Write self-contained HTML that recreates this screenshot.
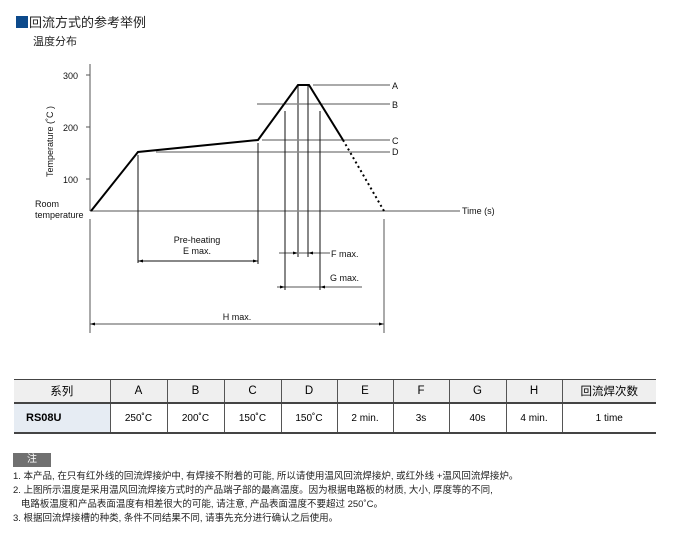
<!DOCTYPE html>
<html><head><meta charset="utf-8"><style>
body{margin:0;width:686px;height:545px;background:#fff;position:relative;overflow:hidden;font-family:"Liberation Sans","Noto Sans CJK SC",sans-serif;}
.abs{position:absolute;white-space:nowrap}
table{position:absolute;left:14px;top:380px;border-collapse:collapse;width:642px;font-size:10px;}
td{border-left:1px solid #555;text-align:center;padding:0;}
td:first-child{border-left:none}
tr.h td{height:22px;background:#efefef;font-size:11.5px;border-bottom:2px solid #444}
tr.d td{height:28px;}
</style></head><body>
<div class="abs" style="left:16px;top:16px;width:12px;height:12px;background:#0d4a8b"></div>
<div class="abs" style="left:29px;top:12px;font-size:13px;color:#222">回流方式的参考举例</div>
<div class="abs" style="left:33px;top:33px;font-size:11px;color:#222">温度分布</div>
<svg class="abs" style="left:0;top:0" width="686" height="370" font-family="Liberation Sans, sans-serif" font-size="9">
<g stroke="#555" stroke-width="1" fill="none">
<line x1="90" y1="64" x2="90" y2="211"/>
<line x1="86" y1="75" x2="90" y2="75"/><line x1="86" y1="127" x2="90" y2="127"/><line x1="86" y1="179" x2="90" y2="179"/>
<line x1="90" y1="211" x2="460" y2="211"/>
<line x1="313" y1="85" x2="390" y2="85"/>
<line x1="257" y1="104" x2="390" y2="104"/>
<line x1="262" y1="140" x2="390" y2="140"/>
<line x1="156" y1="152" x2="390" y2="152"/>
<line x1="90" y1="219" x2="90" y2="333"/>
<line x1="90" y1="324" x2="384" y2="324"/>
<line x1="384" y1="219" x2="384" y2="333"/>
<line x1="279" y1="253" x2="330" y2="253"/>
<line x1="277" y1="287" x2="362" y2="287"/>
</g>
<g stroke="#111" stroke-width="1" fill="none">
<line x1="138" y1="155" x2="138" y2="263"/>
<line x1="258" y1="143" x2="258" y2="264"/>
<line x1="138" y1="261" x2="258" y2="261"/>
<line x1="285" y1="111" x2="285" y2="290"/>
<line x1="320" y1="111" x2="320" y2="290"/>
<line x1="308" y1="85" x2="308" y2="257"/>
</g>
<line x1="298" y1="85" x2="298" y2="257" stroke="#888" stroke-width="2"/>
<polyline points="91,211 138,152 258,140 298,85 309,85 343,140" fill="none" stroke="#000" stroke-width="2"/>
<line x1="343" y1="140" x2="384" y2="211" stroke="#000" stroke-width="2" stroke-dasharray="2,3"/>
<g fill="#000">
<path d="M138,261 l5,-1.5 v3z"/><path d="M258,261 l-5,-1.5 v3z"/>
<path d="M90,324 l5,-1.5 v3z"/><path d="M384,324 l-5,-1.5 v3z"/>
<path d="M298,253 l-5,-1.5 v3z"/><path d="M308,253 l5,-1.5 v3z"/>
<path d="M285,287 l-5,-1.5 v3z"/><path d="M320,287 l5,-1.5 v3z"/>
</g>
<g fill="#111">
<text x="63" y="79">300</text><text x="63" y="131">200</text><text x="63" y="183">100</text>
<text x="35" y="207">Room</text><text x="35" y="218">temperature</text>
<text transform="translate(53,177) rotate(-90)">Temperature (˚C )</text>
<text x="392" y="89">A</text><text x="392" y="108">B</text><text x="392" y="144">C</text><text x="392" y="155">D</text>
<text x="462" y="214">Time (s)</text>
<text x="197" y="243" text-anchor="middle">Pre-heating</text>
<text x="197" y="254" text-anchor="middle">E max.</text>
<text x="331" y="257">F max.</text>
<text x="330" y="281">G max.</text>
<text x="237" y="320" text-anchor="middle">H max.</text>
</g>
</svg>
<div class="abs" style="left:14px;top:379px;width:642px;height:2px;background:#444"></div>
<table>
<colgroup><col style="width:96px"><col style="width:57px"><col style="width:57px"><col style="width:57px"><col style="width:56px"><col style="width:56px"><col style="width:56px"><col style="width:57px"><col style="width:56px"><col style="width:94px"></colgroup>
<tr class="h"><td>系列</td><td>A</td><td>B</td><td>C</td><td>D</td><td>E</td><td>F</td><td>G</td><td>H</td><td>回流焊次数</td></tr>
<tr class="d"><td style="background:#e6ecf3;text-align:left;padding-left:12px;font-weight:bold;font-size:11px">RS08U</td><td>250˚C</td><td>200˚C</td><td>150˚C</td><td>150˚C</td><td>2 min.</td><td>3s</td><td>40s</td><td>4 min.</td><td>1 time</td></tr>
</table>
<div class="abs" style="left:14px;top:432px;width:642px;height:2px;background:#444"></div>
<div class="abs" style="left:13px;top:453px;width:38px;height:14px;background:#707070;color:#fff;font-size:10px;text-align:center;line-height:14px">注</div>
<div class="abs" style="left:13px;top:470px;font-size:9.5px;line-height:14px;color:#222">
1. 本产品, 在只有红外线的回流焊接炉中, 有焊接不附着的可能, 所以请使用温风回流焊接炉, 或红外线 +温风回流焊接炉。<br>
2. 上图所示温度是采用温风回流焊接方式时的产品端子部的最高温度。因为根据电路板的材质, 大小, 厚度等的不同,<br>
&nbsp;&nbsp;&nbsp;电路板温度和产品表面温度有相差很大的可能, 请注意, 产品表面温度不要超过 250˚C。<br>
3. 根据回流焊接槽的种类, 条件不同结果不同, 请事先充分进行确认之后使用。
</div>
</body></html>
